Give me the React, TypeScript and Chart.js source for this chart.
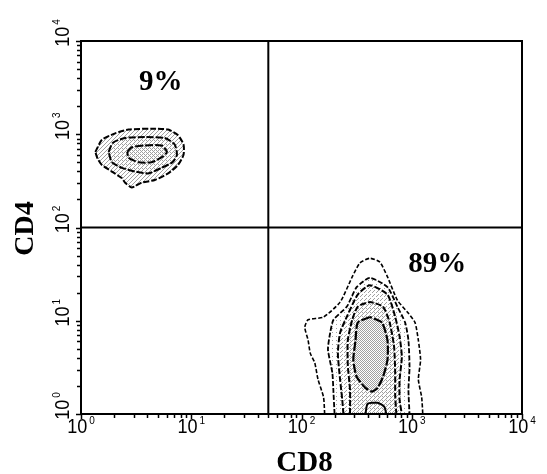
import React, { useEffect, useRef } from "react";
import { Chart, registerables } from "chart.js";

Chart.register(...registerables);

// ---------- data ----------
const AXIS_EXPONENTS = [0, 1, 2, 3, 4];
const MINOR_MULTIPLIERS = [2, 3, 4, 5, 6, 7, 8, 9];
const X_TITLE = "CD8";
const Y_TITLE = "CD4";
const CD8_GATE = 50;
const CD4_GATE = 100;
const QUADRANT_PERCENTS = ["9%", "89%"];
const PERCENT_CD8_ANCHORS = [5.3, 1700];
const PERCENT_CD4_ANCHORS = [2980, 33];

// contour outlines as [log10 CD8, log10 CD4]
const CD4_POP_OUTER = [
  [0.13, 2.81], [0.19, 2.94], [0.31, 3.01], [0.43, 3.05], [0.64, 3.06], [0.79, 3.05],
  [0.88, 2.99], [0.93, 2.89], [0.93, 2.78], [0.88, 2.67], [0.79, 2.58], [0.67, 2.51],
  [0.55, 2.48], [0.46, 2.43], [0.4, 2.48], [0.37, 2.53], [0.28, 2.6], [0.19, 2.67], [0.15, 2.74],
];
const CD4_POP_MIDDLE = [
  [0.25, 2.81], [0.29, 2.91], [0.4, 2.96], [0.58, 2.97], [0.76, 2.96], [0.85, 2.89],
  [0.87, 2.78], [0.83, 2.7], [0.73, 2.64], [0.61, 2.58], [0.49, 2.6], [0.37, 2.64], [0.28, 2.7],
];
const CD4_POP_INNER = [
  [0.42, 2.81], [0.46, 2.86], [0.58, 2.88], [0.73, 2.88], [0.78, 2.81], [0.74, 2.76],
  [0.64, 2.7], [0.52, 2.7], [0.43, 2.75],
];
const CD8_POP_L1 = [
  [2.21, 0], [2.2, 0.18], [2.15, 0.37], [2.12, 0.55], [2.08, 0.65], [2.06, 0.79], [2.03, 0.93],
  [2.06, 1.01], [2.2, 1.04], [2.35, 1.2], [2.46, 1.47], [2.53, 1.62], [2.62, 1.67], [2.71, 1.63],
  [2.78, 1.47], [2.87, 1.22], [2.97, 1.08], [3.03, 0.98], [3.06, 0.79], [3.08, 0.58],
  [3.06, 0.37], [3.09, 0.18], [3.1, 0],
];
const CD8_POP_L2 = [
  [2.3, 0], [2.29, 0.23], [2.28, 0.44], [2.24, 0.69], [2.26, 0.87], [2.29, 1.01], [2.41, 1.15],
  [2.5, 1.36], [2.62, 1.46], [2.78, 1.36], [2.87, 1.15], [2.94, 0.98], [2.97, 0.79],
  [2.98, 0.5], [2.97, 0.26], [2.98, 0],
];
const CD8_POP_L3 = [
  [2.38, 0], [2.37, 0.15], [2.35, 0.37], [2.33, 0.65], [2.35, 0.87], [2.41, 1.04], [2.51, 1.28],
  [2.62, 1.38], [2.78, 1.28], [2.85, 1.04], [2.89, 0.83], [2.91, 0.61], [2.89, 0.37],
  [2.89, 0.15], [2.91, 0],
];
const CD8_POP_L4 = [
  [2.44, 0], [2.44, 0.26], [2.42, 0.52], [2.42, 0.79], [2.46, 1.01], [2.51, 1.15], [2.62, 1.2],
  [2.74, 1.15], [2.8, 0.98], [2.84, 0.72], [2.85, 0.44], [2.85, 0.2], [2.86, 0],
];
const CD8_POP_INNER = [
  [2.62, 1.04], [2.51, 0.98], [2.49, 0.79], [2.47, 0.58], [2.5, 0.4], [2.58, 0.28], [2.64, 0.24],
  [2.69, 0.28], [2.74, 0.4], [2.78, 0.58], [2.78, 0.79], [2.73, 0.98],
];
const CD8_POP_BASE = [
  [2.58, 0.0], [2.6, 0.11], [2.69, 0.12], [2.75, 0.08], [2.77, 0.0],
];

// ---------- helpers ----------
const SERIF = '"Liberation Serif", "Times New Roman", serif';
const SANS = '"Liberation Sans", Arial, sans-serif';
const X_SCALE = 0.86;

function toPoints(c: number[][], closed: boolean) {
  const pts = c.map(([a, b]) => ({ x: Math.pow(10, a), y: Math.pow(10, b) }));
  if (closed) pts.push({ ...pts[0] });
  return pts;
}

function stipple(n: number) {
  const c = document.createElement("canvas");
  c.width = 4;
  c.height = 4;
  const g = c.getContext("2d")!;
  const cells = [[0, 0], [2, 2], [1, 3], [3, 1], [2, 0], [0, 2], [3, 3], [1, 1], [1, 0], [3, 2], [0, 3], [2, 1]];
  g.fillStyle = "#a0a0a0";
  for (let i = 0; i < n; i++) g.fillRect(cells[i][0], cells[i][1], 1, 1);
  return g.createPattern(c, "repeat");
}

function drawPow(ctx: CanvasRenderingContext2D, exp: number, cx: number, baseline: number) {
  ctx.font = `21px ${SANS}`;
  const bw = ctx.measureText("10").width * X_SCALE;
  ctx.font = `10px ${SANS}`;
  const sw = ctx.measureText(String(exp)).width;
  const total = bw + 2 + sw;
  const left = cx - total / 2;
  ctx.save();
  ctx.translate(left, baseline);
  ctx.scale(X_SCALE, 1);
  ctx.font = `21px ${SANS}`;
  ctx.textAlign = "left";
  ctx.textBaseline = "alphabetic";
  ctx.fillText("10", 0, 0);
  ctx.restore();
  ctx.font = `10px ${SANS}`;
  ctx.textAlign = "left";
  ctx.textBaseline = "alphabetic";
  ctx.fillText(String(exp), left + bw + 2, baseline - 9);
}

const axesPlugin = {
  id: "flowAxes",
  afterDraw(chart: any) {
    const { ctx, chartArea: a } = chart;
    const xs = chart.scales.x;
    const ys = chart.scales.y;
    ctx.save();
    ctx.strokeStyle = "#000";
    ctx.fillStyle = "#000";
    ctx.lineWidth = 2;
    ctx.strokeRect(a.left, a.top, a.right - a.left, a.bottom - a.top);

    ctx.lineWidth = 1.5;
    ctx.beginPath();
    AXIS_EXPONENTS.forEach((d) => {
      const vals = [Math.pow(10, d)];
      if (d < AXIS_EXPONENTS[AXIS_EXPONENTS.length - 1]) MINOR_MULTIPLIERS.forEach((k) => vals.push(k * Math.pow(10, d)));
      vals.forEach((v, i) => {
        const len = i === 0 ? 5 : 4;
        const px = Math.round(xs.getPixelForValue(v)) + 0.5;
        ctx.moveTo(px, a.bottom);
        ctx.lineTo(px, a.bottom + len);
        const py = Math.round(ys.getPixelForValue(v)) + 0.5;
        ctx.moveTo(a.left, py);
        ctx.lineTo(a.left - len, py);
      });
    });
    ctx.stroke();

    AXIS_EXPONENTS.forEach((d) => {
      const v = Math.pow(10, d);
      drawPow(ctx, d, xs.getPixelForValue(v), a.bottom + 19);
      ctx.save();
      ctx.translate(a.left - 12, ys.getPixelForValue(v));
      ctx.rotate(-Math.PI / 2);
      drawPow(ctx, d, 8, 0);
      ctx.restore();
    });

    ctx.font = `bold 29px ${SERIF}`;
    ctx.textAlign = "center";
    ctx.textBaseline = "alphabetic";
    ctx.fillText(X_TITLE, (a.left + a.right) / 2 + 3, a.bottom + 57);
    ctx.save();
    ctx.translate(a.left - 48, (a.top + a.bottom) / 2 + 1);
    ctx.rotate(-Math.PI / 2);
    ctx.font = `bold 28px ${SERIF}`;
    ctx.fillText(Y_TITLE, 0, 0);
    ctx.restore();

    ctx.font = `bold 29px ${SERIF}`;
    QUADRANT_PERCENTS.forEach((t, i) => {
      ctx.fillText(t, xs.getPixelForValue(PERCENT_CD8_ANCHORS[i]), ys.getPixelForValue(PERCENT_CD4_ANCHORS[i]));
    });
    ctx.restore();
  },
};

export default function App() {
  const ref = useRef<HTMLCanvasElement | null>(null);
  useEffect(() => {
    if (!ref.current) return;
    const contour = (
      label: string,
      c: number[][],
      closed: boolean,
      fill: any,
      dash: number[],
      width: number,
      order: number
    ) => ({
      label,
      data: toPoints(c, closed),
      showLine: true,
      borderColor: "#000",
      borderWidth: width,
      borderDash: dash,
      pointRadius: 0,
      tension: 0.2,
      fill: fill ? "shape" : false,
      backgroundColor: fill || "rgba(0,0,0,0)",
      order,
    });
    const datasets: any[] = [
      contour("CD4+ outer", CD4_POP_OUTER, true, stipple(4), [6, 2], 2, 20),
      contour("CD4+ middle", CD4_POP_MIDDLE, true, stipple(5), [7, 2], 2, 19),
      contour("CD4+ inner", CD4_POP_INNER, true, stipple(6), [8, 2], 2, 18),
      contour("CD8+ L1", CD8_POP_L1, false, null, [4, 2], 1.6, 15),
      contour("CD8+ L2", CD8_POP_L2, false, stipple(1), [5, 2], 1.8, 14),
      contour("CD8+ L3", CD8_POP_L3, false, stipple(3), [6, 2], 2, 13),
      contour("CD8+ L4", CD8_POP_L4, false, stipple(5), [6, 2], 2, 12),
      contour("CD8+ inner", CD8_POP_INNER, true, stipple(8), [9, 2], 2.2, 11),
      contour("CD8+ base", CD8_POP_BASE, false, stipple(5), [], 2, 10),
      {
        label: "CD8 gate",
        data: [{ x: CD8_GATE, y: 1 }, { x: CD8_GATE, y: 10000 }],
        showLine: true,
        borderColor: "#000",
        borderWidth: 2,
        pointRadius: 0,
        order: 1,
      },
      {
        label: "CD4 gate",
        data: [{ x: 1, y: CD4_GATE }, { x: 10000, y: CD4_GATE }],
        showLine: true,
        borderColor: "#000",
        borderWidth: 2,
        pointRadius: 0,
        order: 1,
      },
    ];
    const chart = new Chart(ref.current, {
      type: "scatter",
      data: { datasets },
      options: {
        responsive: false,
        animation: false,
        layout: { padding: { left: 81, top: 41, right: 25, bottom: 60 } },
        plugins: {
          legend: { display: false },
          tooltip: { enabled: false },
          filler: { drawTime: "beforeDatasetDraw" },
        },
        scales: {
          x: { type: "logarithmic", min: 1, max: 10000, display: false },
          y: { type: "logarithmic", min: 1, max: 10000, display: false },
        },
      } as any,
      plugins: [axesPlugin],
    });
    return () => chart.destroy();
  }, []);
  return (
    <div style={{ position: "absolute", left: 0, top: 0, width: 547, height: 474, background: "#fff" }}>
      <canvas ref={ref} width={547} height={474} />
    </div>
  );
}
